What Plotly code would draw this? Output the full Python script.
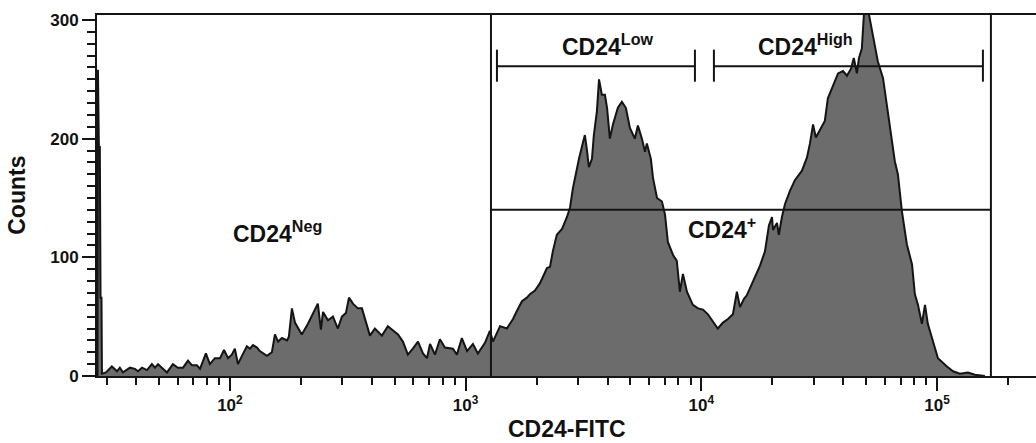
import plotly.graph_objects as go

# Histogram outline: (log10 CD24-FITC intensity, counts)
hist_points = [
    (1.438, 0), (1.440, 258), (1.444, 193), (1.448, 193), (1.451, 66), (1.455, 66), (1.457, 2),
    (1.474, 3), (1.499, 8), (1.521, 4), (1.533, 7), (1.546, 3), (1.576, 7), (1.597, 6), (1.610, 4),
    (1.627, 7), (1.648, 5), (1.669, 10), (1.682, 7), (1.695, 10), (1.711, 7), (1.733, 3), (1.758, 10),
    (1.779, 7), (1.801, 7), (1.822, 13), (1.839, 9), (1.860, 9), (1.873, 6), (1.898, 19), (1.915, 10),
    (1.936, 15), (1.958, 15), (1.975, 22), (1.992, 15), (2.008, 18), (2.021, 23), (2.034, 10),
    (2.051, 17), (2.072, 25), (2.085, 23), (2.098, 26), (2.115, 24), (2.127, 21), (2.157, 17),
    (2.178, 20), (2.191, 35), (2.204, 29), (2.221, 32), (2.242, 30), (2.250, 33), (2.263, 57),
    (2.276, 45), (2.305, 35), (2.331, 44), (2.352, 53), (2.373, 61), (2.386, 39), (2.395, 54),
    (2.416, 47), (2.437, 50), (2.458, 40), (2.475, 50), (2.492, 53), (2.505, 66), (2.522, 61),
    (2.543, 57), (2.560, 57), (2.581, 44), (2.594, 34), (2.615, 40), (2.645, 34), (2.670, 42),
    (2.692, 38), (2.713, 35), (2.734, 29), (2.755, 18), (2.776, 23), (2.798, 29), (2.819, 19),
    (2.836, 15), (2.849, 27), (2.870, 18), (2.891, 31), (2.912, 24), (2.946, 23), (2.963, 18),
    (2.984, 32), (3.006, 21), (3.031, 27), (3.052, 19), (3.082, 28), (3.103, 38), (3.116, 29),
    (3.146, 42), (3.175, 40), (3.201, 48), (3.218, 55), (3.239, 63), (3.260, 66), (3.273, 69),
    (3.294, 72), (3.315, 78), (3.336, 87), (3.345, 91), (3.358, 92), (3.370, 105), (3.387, 119),
    (3.400, 122), (3.409, 124), (3.430, 134), (3.443, 142), (3.455, 158), (3.472, 176), (3.481, 183),
    (3.498, 197), (3.506, 203), (3.515, 190), (3.523, 176), (3.536, 183), (3.544, 203), (3.557, 223),
    (3.566, 250), (3.578, 237), (3.591, 237), (3.600, 226), (3.612, 200), (3.625, 212), (3.646, 226),
    (3.663, 231), (3.680, 226), (3.697, 209), (3.718, 200), (3.731, 211), (3.748, 200), (3.761, 189),
    (3.769, 196), (3.786, 183), (3.795, 167), (3.812, 150), (3.833, 147), (3.846, 136), (3.858, 113),
    (3.880, 102), (3.896, 97), (3.909, 71), (3.922, 86), (3.939, 71), (3.952, 66), (3.964, 60),
    (3.986, 57), (4.007, 56), (4.028, 52), (4.049, 46), (4.070, 40), (4.092, 45), (4.113, 48),
    (4.134, 52), (4.151, 71), (4.164, 58), (4.181, 65), (4.193, 68), (4.219, 80), (4.249, 93),
    (4.270, 105), (4.287, 127), (4.300, 134), (4.304, 123), (4.321, 129), (4.329, 119), (4.342, 134),
    (4.355, 145), (4.376, 156), (4.397, 165), (4.427, 173), (4.448, 184), (4.461, 196), (4.474, 212),
    (4.486, 201), (4.503, 207), (4.524, 215), (4.537, 234), (4.558, 244), (4.580, 255), (4.601, 257),
    (4.618, 253), (4.635, 259), (4.647, 268), (4.660, 255), (4.669, 268), (4.681, 276), (4.690, 305),
    (4.703, 310), (4.711, 305), (4.728, 287), (4.749, 265), (4.771, 251), (4.792, 223), (4.813, 195),
    (4.821, 181), (4.834, 170), (4.851, 139), (4.872, 111), (4.894, 94), (4.906, 69), (4.919, 60),
    (4.936, 44), (4.949, 60), (4.961, 44), (4.983, 29), (5.004, 15), (5.042, 8), (5.068, 4),
    (5.097, 2), (5.131, 3), (5.161, 1), (5.203, 0),
]

# Gates
cd24_pos_gate = [1281, 169300]      # CD24+ gate x limits
cd24_pos_level = 140                # horizontal gate line (counts)
low_bracket = [1358, 9396]
high_bracket = [11310, 156600]
bracket_level = 261
bracket_tick = [248, 275]

y_tickvals = [0, 100, 200, 300]
x_tickvals = [100, 1000, 10000, 100000]
x_ticktext = ["10<sup>2</sup>", "10<sup>3</sup>", "10<sup>4</sup>", "10<sup>5</sup>"]
x_minor = [30, 40, 50, 60, 70, 80, 90,
           200, 300, 400, 500, 600, 700, 800, 900,
           2000, 3000, 4000, 5000, 6000, 7000, 8000, 9000,
           20000, 30000, 40000, 50000, 60000, 70000, 80000, 90000,
           200000]

labels = [
    ("CD24<sup>Neg</sup>", 2.200, 121),
    ("CD24<sup>+</sup>", 4.087, 125),
    ("CD24<sup>Low</sup>", 3.604, 279),
    ("CD24<sup>High</sup>", 4.444, 279),
]

FONT = "Liberation Sans, Arial, sans-serif"
LINE = "#141414"

xs = [10 ** a for a, _ in hist_points]
ys = [b for _, b in hist_points]

fig = go.Figure()
fig.add_trace(go.Scatter(
    x=xs, y=ys, mode="lines", fill="tozeroy",
    fillcolor="#6c6c6c", line=dict(color=LINE, width=2),
    hoverinfo="skip", showlegend=False,
))

YTOP = 304.2
def seg(x, y):
    fig.add_trace(go.Scatter(x=x, y=y, mode="lines", line=dict(color=LINE, width=2),
                             hoverinfo="skip", showlegend=False))

# CD24+ gate
seg([cd24_pos_gate[0]] * 2, [0, YTOP])
seg([cd24_pos_gate[1]] * 2, [0, YTOP])
seg(cd24_pos_gate, [cd24_pos_level] * 2)
# brackets
for br in (low_bracket, high_bracket):
    seg(br, [bracket_level] * 2)
    seg([br[0]] * 2, bracket_tick)
    seg([br[1]] * 2, bracket_tick)

ann = []
for txt, lx, ly in labels:
    ann.append(dict(text=txt, x=lx, y=ly, xref="x", yref="y", showarrow=False,
                    font=dict(family=FONT, size=23, color="#111", weight="bold"),
                    xanchor="center", yanchor="middle"))
ann.append(dict(text="Counts", x=-0.086, y=0.5, xref="paper", yref="paper", textangle=-90,
                showarrow=False, font=dict(family=FONT, size=23, color="#111", weight="bold"),
                xanchor="center", yanchor="middle"))
ann.append(dict(text="CD24-FITC", x=0.5, y=-0.148, xref="paper", yref="paper",
                showarrow=False, font=dict(family=FONT, size=23, color="#111", weight="bold"),
                xanchor="center", yanchor="middle"))

fig.update_layout(
    width=1036, height=443, autosize=False,
    margin=dict(l=97, r=0, t=15, b=67),
    paper_bgcolor="white", plot_bgcolor="white",
    annotations=ann,
    xaxis=dict(
        type="log", range=[1.436, 5.42], showgrid=False, zeroline=False,
        showline=True, linecolor=LINE, linewidth=2, mirror=True,
        ticks="outside", ticklen=13, tickwidth=2, tickcolor=LINE,
        tickvals=x_tickvals, ticktext=x_ticktext,
        tickfont=dict(family=FONT, size=17, color="#111", weight="bold"),
        minor=dict(tickvals=x_minor, ticks="outside", ticklen=7, tickwidth=1.5,
                   tickcolor=LINE, showgrid=False),
    ),
    yaxis=dict(
        range=[0, YTOP], showgrid=False, zeroline=False,
        showline=True, linecolor=LINE, linewidth=2,
        ticks="outside", ticklen=13, tickwidth=2, tickcolor=LINE,
        tickvals=y_tickvals,
        tickfont=dict(family=FONT, size=17, color="#111", weight="bold"),
        minor=dict(dtick=10, ticks="outside", ticklen=8, tickwidth=1.5,
                   tickcolor=LINE, showgrid=False),
    ),
)

fig.write_html("out.html", config={"displayModeBar": False},
               post_script="document.body.style.margin='0px';document.body.style.overflow='hidden';")
